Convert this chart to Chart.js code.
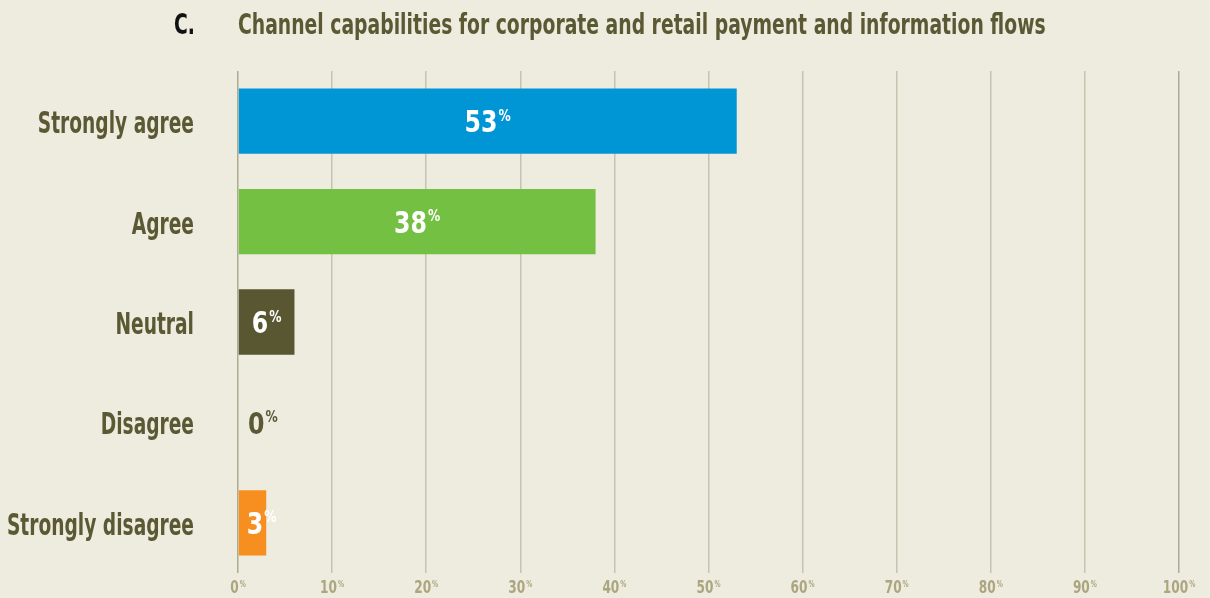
<!DOCTYPE html>
<html>
<head>
<meta charset="utf-8">
<script src="https://cdn.jsdelivr.net/npm/chart.js@4/dist/chart.umd.min.js"></script>
<style>
  html, body { margin: 0; padding: 0; background: #eeebdf; }
  #wrap { position: relative; width: 1210px; height: 598px; }
</style>
</head>
<body>
<div id="wrap"><canvas id="capChart"></canvas></div>
<script>
const categories = ['Strongly agree', 'Agree', 'Neutral', 'Disagree', 'Strongly disagree'];
const shares = [53, 38, 6, 0, 3];
const barColors = ['#0096d6', '#74c043', '#595632', '#595632', '#f68e20'];
const chartLetter = 'C.';
const chartTitle = 'Channel capabilities for corporate and retail payment and information flows';

const FONT = '"DejaVu Sans Condensed", "DejaVu Sans", sans-serif';
const OLIVE = '#5a5934';
const TICK_COLOR = '#aba67f';

// text squeezed horizontally to get a narrow display face
function squeezed(ctx, text, x, y, size, color, align, sx) {
    ctx.save();
    ctx.font = 'bold ' + size + 'px ' + FONT;
    ctx.fillStyle = color;
    ctx.textBaseline = 'alphabetic';
    ctx.textAlign = align;
    ctx.translate(x, y);
    ctx.scale(sx, 1);
    ctx.fillText(text, 0, 0);
    ctx.restore();
}

function textWidth(ctx, text, size, sx) {
    ctx.font = 'bold ' + size + 'px ' + FONT;
    return ctx.measureText(text).width * sx;
}

// number followed by a small raised percent sign
function drawPercent(ctx, value, cx, cy, size, color, align, sx, minLeft) {
    const pctSize = Math.round(size * 0.5);
    const wNum = textWidth(ctx, String(value), size, sx);
    const wPct = textWidth(ctx, '%', pctSize, sx);
    const total = wNum + 1 + wPct;
    let x = align === 'left' ? cx : cx - total / 2;
    if (minLeft !== undefined) x = Math.max(x, minLeft);
    const base = cy + size * 0.36;
    squeezed(ctx, String(value), x, base, size, color, 'left', sx);
    squeezed(ctx, '%', x + wNum + 1, base - size * 0.37, pctSize, color, 'left', sx);
}

const decorations = {
    id: 'decorations',
    afterDraw(chart) {
        const ctx = chart.ctx;
        const area = chart.chartArea;
        const xs = chart.scales.x;
        const ys = chart.scales.y;

        // heading
        squeezed(ctx, chartLetter, 174, 34, 29, '#111111', 'left', 0.72);
        squeezed(ctx, chartTitle, area.left, 34, 29, OLIVE, 'left', 0.72);

        // category labels
        categories.forEach((c, i) => {
            squeezed(ctx, c, area.left - 44, ys.getPixelForValue(i) + 12, 30, OLIVE, 'right', 0.69);
        });

        // x axis tick labels
        xs.ticks.forEach(t => {
            drawPercent(ctx, t.value, xs.getPixelForValue(t.value), area.bottom + 14, 18, TICK_COLOR, 'center', 0.75);
        });

        // bar value labels
        const meta = chart.getDatasetMeta(0);
        meta.data.forEach((bar, i) => {
            const v = shares[i];
            if (v === 0) {
                drawPercent(ctx, v, bar.x + 10, bar.y, 31, OLIVE, 'left', 0.85);
            } else {
                drawPercent(ctx, v, (bar.base + bar.x) / 2, bar.y, 31, '#ffffff', 'center', 0.85, bar.base + 8);
            }
        });
    }
};

new Chart(document.getElementById('capChart'), {
    type: 'bar',
    data: {
        labels: categories,
        datasets: [{
            data: shares,
            backgroundColor: barColors,
            borderWidth: 0,
            categoryPercentage: 1,
            barPercentage: 0.65
        }]
    },
    options: {
        indexAxis: 'y',
        responsive: true,
        maintainAspectRatio: false,
        animation: false,
        layout: { padding: { top: 71, right: 31, left: 0, bottom: 0 } },
        plugins: {
            legend: { display: false },
            tooltip: { enabled: false }
        },
        scales: {
            x: {
                min: 0,
                max: 100,
                ticks: { stepSize: 10, display: false },
                grid: {
                    drawTicks: false,
                    lineWidth: 1.5,
                    color: ctx => (ctx.tick && (ctx.tick.value === 0 || ctx.tick.value === 100)) ? '#aeab94' : '#c6c3b0'
                },
                border: { display: false },
                afterFit: scale => { scale.height = 25; }
            },
            y: {
                grid: { display: false, drawTicks: false },
                border: { display: false },
                ticks: { display: false },
                afterFit: scale => { scale.width = 238; }
            }
        }
    },
    plugins: [decorations]
});
</script>
</body>
</html>
